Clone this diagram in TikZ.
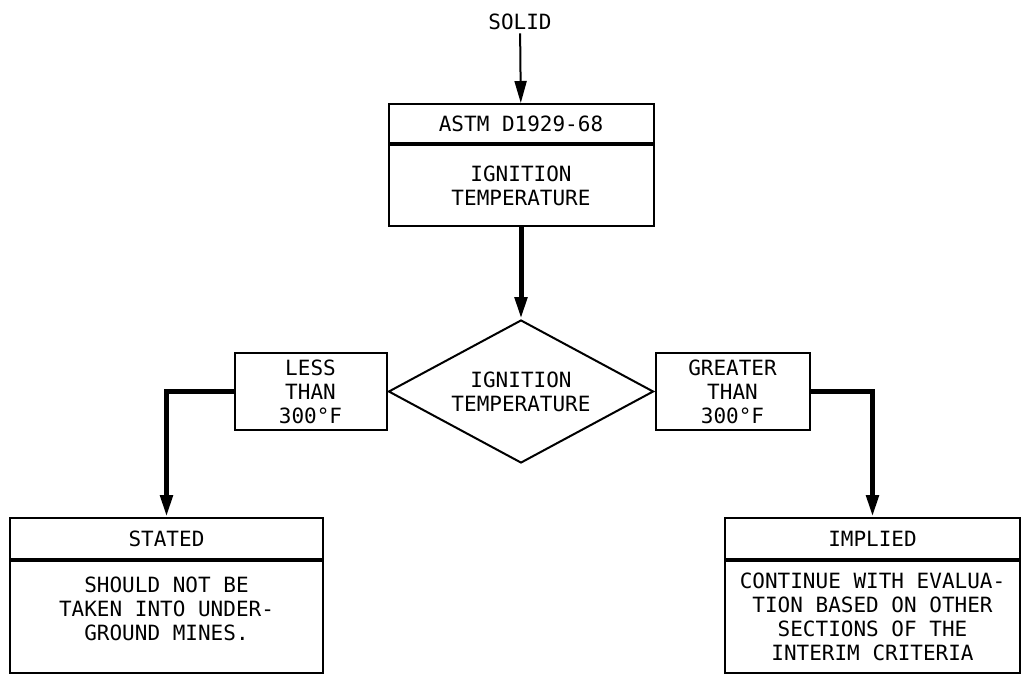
\documentclass[tikz,border=0pt]{standalone}
\usepackage{fontspec}
\newfontfamily\gothic{DejaVu Sans Mono}
\usetikzlibrary{shapes.geometric,arrows.meta}

\tikzset{
  box/.style={draw, line width=2pt, align=center, inner sep=0pt},
  flow/.style={line width=5pt, -{Triangle[length=22pt,width=12pt]}},
  feed/.style={line width=2pt, -{Triangle[length=22pt,width=12pt]}}
}

\begin{document}
\begin{tikzpicture}[x=1pt, y=-1pt, font=\gothic\fontsize{21}{24}\selectfont]
  \useasboundingbox (0,0) rectangle (1024,673);

  % Input
  \node (solid) at (520,22) {SOLID};

  % Test box
  \node[box, minimum width=265, minimum height=39] (astm) at (521,123.5) {ASTM D1929-68};
  \node[box, minimum width=265, minimum height=81, anchor=north] (ignbox) at (astm.south) {IGNITION\\TEMPERATURE};

  % Decision
  \node[draw, diamond, line width=2pt, minimum width=265, minimum height=143, aspect=1.85, inner sep=0pt, align=center] (dec) at (521,391.5) {IGNITION\\TEMPERATURE};

  % Outcomes
  \node[box, minimum width=152, minimum height=77, anchor=east] (less) at (dec.west) {LESS\\THAN\\300°F};
  \node[box, minimum width=154, minimum height=77, anchor=west] (greater) at (dec.east) {GREATER\\THAN\\300°F};

  % Results
  \node[box, minimum width=313, minimum height=41] (stated) at (166.5,538.5) {STATED};
  \node[box, minimum width=313, minimum height=112, anchor=north] (statedbody) at (stated.south) {};
  \node[anchor=north, align=center] (statedtext) at ([yshift=-13pt]statedbody.north) {SHOULD NOT BE\\TAKEN INTO UNDER-\\GROUND MINES.};
  \node[box, minimum width=295, minimum height=41] (implied) at (872.5,538.5) {IMPLIED};
  \node[box, minimum width=295, minimum height=112, anchor=north] (impliedbody) at (implied.south) {CONTINUE WITH EVALUA-\\TION BASED ON OTHER\\SECTIONS OF THE\\INTERIM CRITERIA};

  % Connectors
  \draw[feed] (solid) -- (astm);
  \draw[flow] (ignbox) -- (dec);
  \draw[flow] (less) -| (stated);
  \draw[flow] (greater) -| (implied);
\end{tikzpicture}
\end{document}
